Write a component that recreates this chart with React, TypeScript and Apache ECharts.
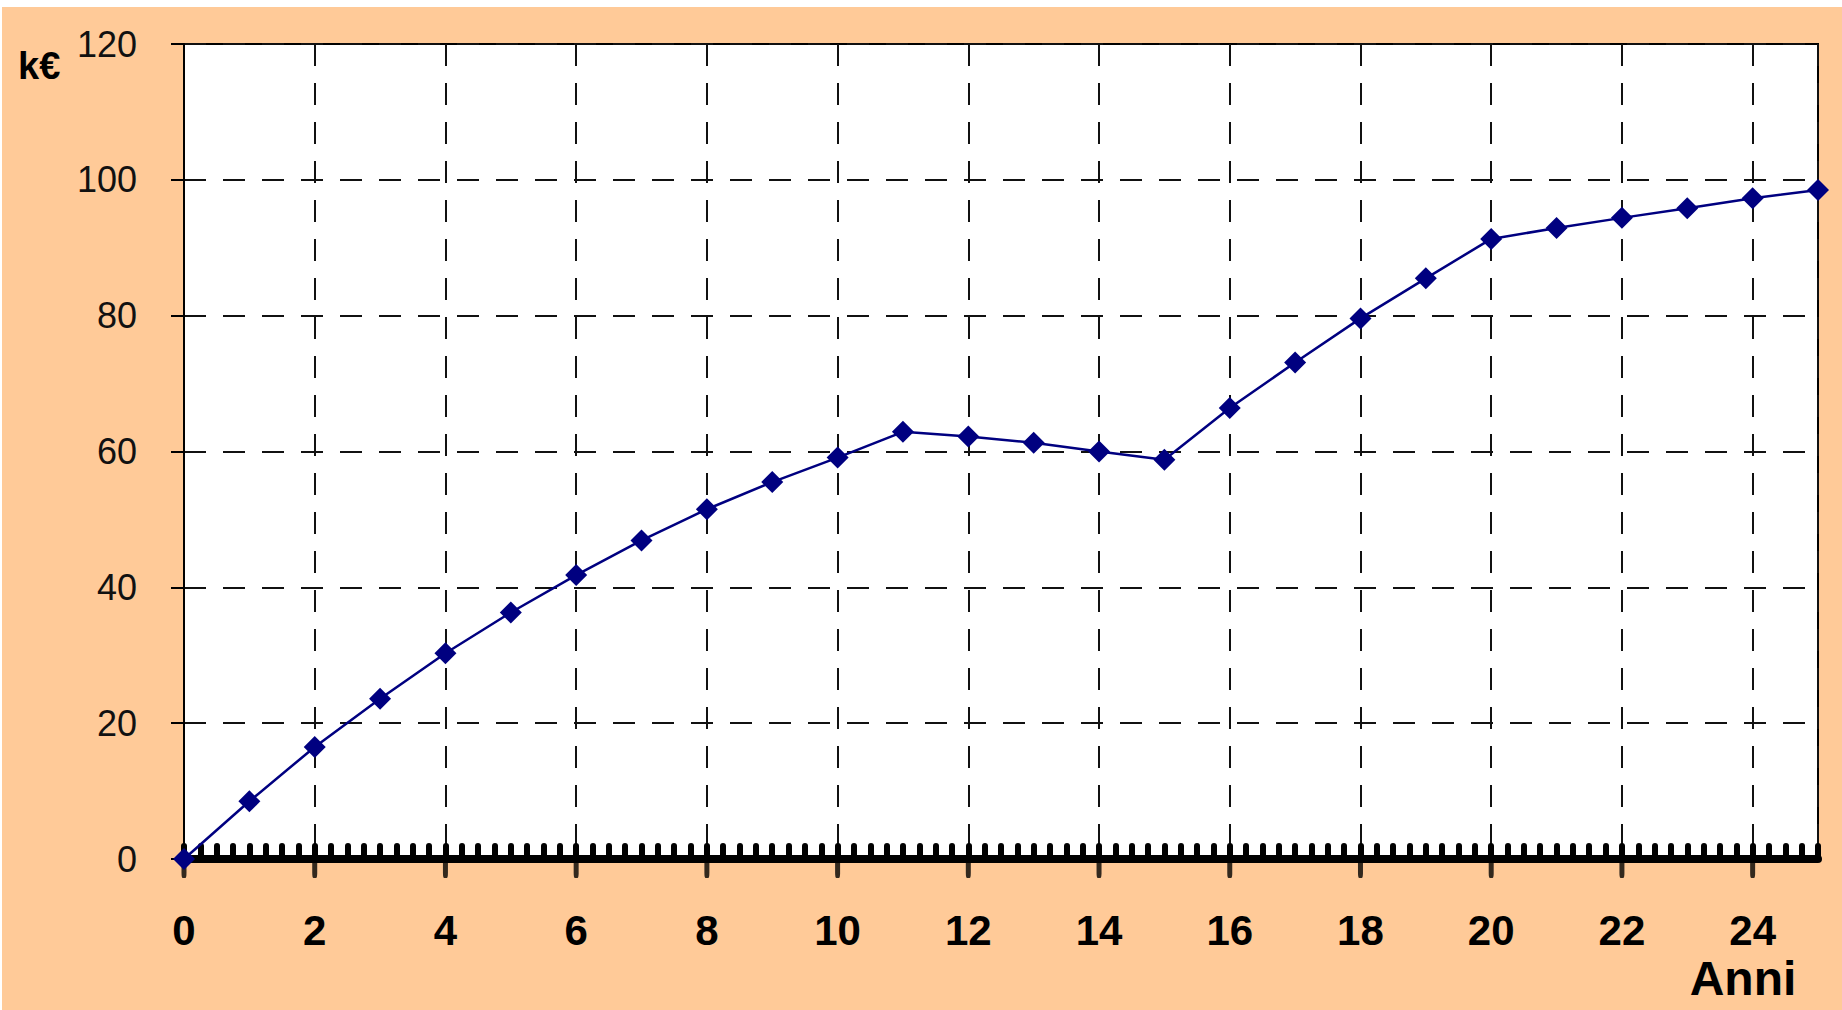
import React, { useEffect, useRef } from "react";
import * as echarts from "echarts";

const years = [0, 1, 2, 3, 4, 5, 6, 7, 8, 9, 10, 11, 12, 13, 14, 15, 16, 17, 18, 19, 20, 21, 22, 23, 24, 25];
const values = [0, 8.5, 16.5, 23.6, 30.3, 36.3, 41.8, 46.9, 51.5, 55.5, 59.1, 62.9, 62.2, 61.3, 60.0, 58.8, 66.4, 73.1, 79.6, 85.5, 91.3, 92.9, 94.4, 95.8, 97.3, 98.5];
const xLabelValues = [0, 2, 4, 6, 8, 10, 12, 14, 16, 18, 20, 22, 24];
const yUnit = "k€";
const xName = "Anni";

const FONT = 'Arial, "Liberation Sans", sans-serif';

export default function App() {
  const ref = useRef<HTMLDivElement>(null);
  useEffect(() => {
    if (!ref.current) return;
    const chart = echarts.init(ref.current, null, { renderer: "svg" });
    chart.setOption({
      animation: false,
      backgroundColor: "#FFCA98",
      grid: {
        left: 182,
        top: 37,
        right: 24,
        bottom: 151,
        show: true,
        backgroundColor: "#ffffff",
        borderColor: "#000000",
        borderWidth: 2,
        containLabel: false,
        outerBoundsMode: "none",
      },
      xAxis: [
        {
          type: "value",
          position: "bottom",
          min: 0,
          max: 25,
          interval: 2,
          axisLine: { show: true, onZero: false, lineStyle: { color: "#000", width: 8 } },
          axisTick: { show: false },
          axisLabel: {
            show: true,
            customValues: xLabelValues,
            margin: 54,
            lineHeight: 34,
            fontFamily: FONT,
            fontSize: 42,
            fontWeight: "bold",
            color: "#000",
            formatter: (v: number) => (v === 25 ? "" : String(v)),
          },
          splitLine: {
            show: true,
            lineStyle: { color: "#111", width: 2, type: [22, 17] },
          },
        },
        {
          type: "value",
          position: "bottom",
          min: 0,
          max: 25,
          interval: 0.25,
          axisLine: { show: false, onZero: false },
          axisTick: {
            show: true,
            inside: true,
            length: 13,
            lineStyle: { color: "#000", width: 6, cap: "round" },
          },
          axisLabel: { show: false },
          splitLine: { show: false },
        },
      ],
      yAxis: {
        type: "value",
        min: 0,
        max: 120,
        interval: 20,
        axisLine: { show: true, lineStyle: { color: "#000", width: 2 } },
        axisTick: { show: true, inside: false, length: 13, lineStyle: { color: "#000", width: 2 } },
        axisLabel: {
          margin: 47,
          fontFamily: FONT,
          fontSize: 36,
          color: "#111",
        },
        splitLine: {
          show: true,
          lineStyle: { color: "#111", width: 2, type: [22, 17] },
        },
      },
      graphic: [
        {
          type: "text",
          left: 16,
          top: 40,
          style: {
            text: yUnit,
            font: `bold 38px ${FONT}`,
            fill: "#000",
          },
        },
        {
          type: "text",
          x: 1741,
          y: 971,
          style: {
            text: xName,
            font: `bold 48px ${FONT}`,
            lineHeight: 38,
            fill: "#000",
            align: "center",
            verticalAlign: "middle",
          },
        },
      ],
      series: [
        {
          // major tick stubs under the x axis at each labelled year
          type: "scatter",
          xAxisIndex: 0,
          data: xLabelValues.map((v) => [v, 0]),
          symbol: "roundRect",
          symbolSize: [5, 20],
          symbolOffset: [0, 9],
          clip: false,
          silent: true,
          z: 3,
          itemStyle: { color: "#000" },
        },
        {
          type: "line",
          xAxisIndex: 0,
          data: years.map((x, i) => [x, values[i]]),
          symbol: "diamond",
          symbolSize: 22,
          clip: false,
          z: 5,
          itemStyle: { color: "#000080" },
          lineStyle: { color: "#000080", width: 2.5 },
        },
      ],
    });
    return () => chart.dispose();
  }, []);
  return (
    <div
      ref={ref}
      style={{ position: "fixed", left: 2, top: 7, width: 1840, height: 1003 }}
    />
  );
}
